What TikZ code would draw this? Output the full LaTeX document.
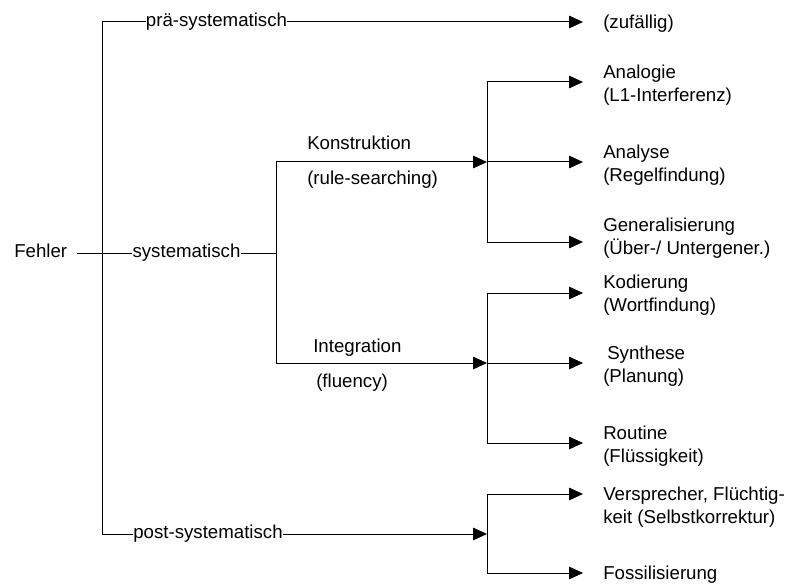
\documentclass[tikz,border=0pt]{standalone}
\usepackage{fontspec}
\setmainfont{Liberation Sans}
\usetikzlibrary{positioning,arrows.meta}

\begin{document}
\begin{tikzpicture}[
  x=0.75pt, y=-0.75pt,
  font=\fontsize{14pt}{17.25pt}\selectfont,
  lbl/.style={inner sep=0pt, text height=10pt, text depth=3pt},
  leaf/.style={inner sep=0pt, anchor=west, align=left},
  conn/.style={black, line width=0.75pt},
  parrow/.style={-{Triangle[length=10.5pt, width=9.5pt]}, black, line width=0.75pt},
]
\useasboundingbox (0,0) rectangle (790,585);
% Stamm
\node[lbl, anchor=west] (fehler) at (14,253) {Fehler};
\node[lbl] (prae) at (216.5,22)  {prä-systematisch};
\node[lbl] (sys)  at (186.5,253) {systematisch};
\node[lbl] (post) at (208,534)   {post-systematisch};
\coordinate (stamm) at (102,534);
\draw[conn] ([xshift=7.5pt]fehler.east) -- (sys.west);
\draw[conn] (prae.west) -| (stamm) -- (post.west);
% Verzweigungen
\coordinate (jsys) at (276,253);
\coordinate (k2) at (487,162);
\coordinate (i2) at (487,363);
\coordinate (p2) at (487,534);
\node[lbl, anchor=west] (kon) at (307,145) {Konstruktion};
\node[lbl, anchor=west] (rul) at (307,180) {(rule-searching)};
\node[lbl, anchor=west] (int) at (313,348) {Integration};
\node[lbl, anchor=west] (flu) at (316,383) {(fluency)};
\draw[conn] (sys.east) -- (jsys);
\draw[parrow] (jsys) |- (k2);
\draw[parrow] (jsys) |- (i2);
\draw[parrow] (post.east) -- (p2);
% Pfeilenden
\coordinate (e-zuf) at (583,22);
\coordinate (e-ana) at (583,82);
\coordinate (e-anl) at (583,162);
\coordinate (e-gen) at (583,242);
\coordinate (e-kod) at (583,293);
\coordinate (e-syn) at (583,363);
\coordinate (e-rou) at (583,443);
\coordinate (e-ver) at (583,494);
\coordinate (e-fos) at (583,573);
% Blaetter
\node[leaf] (zuf) at (603,24)  {(zufällig)};
\node[leaf] (ana) at (603,85)  {Analogie\\(L1-Interferenz)};
\node[leaf] (anl) at (603,165) {Analyse\\(Regelfindung)};
\node[leaf] (gen) at (603,238) {Generalisierung\\(Über-/ Untergener.)};
\node[leaf] (kod) at (603,295) {Kodierung\\(Wortfindung)};
\node[leaf] (syn) at (603,366) {\hspace*{3pt}Synthese\\(Planung)};
\node[leaf] (rou) at (603,446) {Routine\\(Flüssigkeit)};
\node[leaf] (ver) at (603,507) {Versprecher, Flüchtig-\\keit (Selbstkorrektur)};
\node[leaf] (fos) at (603,575) {Fossilisierung};
\draw[parrow] (prae.east) -- (e-zuf);
\draw[parrow] (k2) |- (e-ana);
\draw[parrow] (k2) -- (e-anl);
\draw[parrow] (k2) |- (e-gen);
\draw[parrow] (i2) |- (e-kod);
\draw[parrow] (i2) -- (e-syn);
\draw[parrow] (i2) |- (e-rou);
\draw[parrow] (p2) |- (e-ver);
\draw[parrow] (p2) |- (e-fos);
\end{tikzpicture}
\end{document}
